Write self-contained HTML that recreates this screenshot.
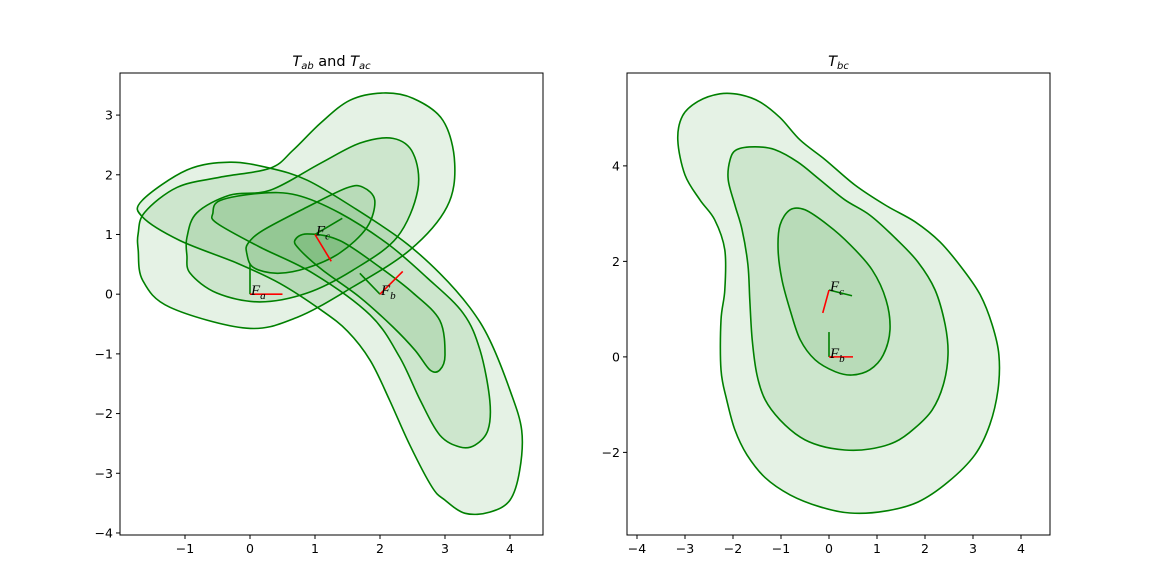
<!DOCTYPE html>
<html><head><meta charset="utf-8"><style>
body{margin:0;background:#fff;}
svg{display:block;font-family:"DejaVu Sans","Liberation Sans",sans-serif;}
</style></head><body>
<svg id="fig" width="1159" height="575"></svg>
<script>
// ---- data ----
const leftXTicks=[-1,0,1,2,3,4];
const leftYTicks=[-4,-3,-2,-1,0,1,2,3];
const rightXTicks=[-4,-3,-2,-1,0,1,2,3,4];
const rightYTicks=[-2,0,2,4];
const acOuterX=[-1.72,-1.65,-1.23,-0.05,0.72,1.58,2.46,3.03,3.15,2.97,2.51,2.05,1.54,1.08,0.66,0.31,-0.46,-1.12,-1.62,-1.72];
const acOuterY=[0.74,0.23,-0.22,-0.57,-0.39,0.12,0.74,1.46,2.19,2.91,3.28,3.37,3.25,2.86,2.41,2.11,1.96,1.79,1.37,1.02];
const acMidX=[-0.97,-0.92,-0.51,0.15,0.88,1.58,2.26,2.58,2.51,2.20,1.69,1.08,0.31,-0.31,-0.82,-0.97];
const acMidY=[0.65,0.35,0.02,-0.13,0.02,0.40,0.95,1.74,2.36,2.61,2.53,2.19,1.74,1.66,1.36,0.95];
const acInnerX=[-0.05,0.05,0.42,0.88,1.38,1.80,1.92,1.74,1.49,0.88,0.20,-0.03];
const acInnerY=[0.69,0.45,0.35,0.44,0.69,1.12,1.57,1.79,1.78,1.46,1.07,0.85];
const abOuterX=[-1.66,-0.97,-0.31,0.31,0.88,1.58,2.35,2.92,3.38,3.69,4.00,4.18,4.15,4.00,3.69,3.31,3.00,2.80,2.46,2.15,1.85,1.50,1.10,0.46,-0.20,-1.08,-1.65];
const abOuterY=[1.57,2.08,2.21,2.11,1.91,1.46,0.90,0.35,-0.22,-0.77,-1.61,-2.28,-2.95,-3.45,-3.65,-3.67,-3.45,-3.23,-2.53,-1.78,-1.11,-0.62,-0.27,0.18,0.52,0.90,1.29];
const abMidX=[-0.57,-0.46,0.15,0.72,1.38,2.11,2.72,3.28,3.54,3.69,3.66,3.46,3.23,2.92,2.62,2.30,1.85,0.97,0.15,-0.51];
const abMidY=[1.36,1.57,1.69,1.66,1.36,0.85,0.28,-0.32,-0.94,-1.78,-2.28,-2.53,-2.56,-2.36,-1.78,-1.05,-0.35,0.35,0.79,1.19];
const abInnerX=[0.69,0.88,1.38,2.00,2.51,2.92,3.00,2.92,2.77,2.54,2.20,1.69,1.12,0.77];
const abInnerY=[0.90,1.01,0.90,0.45,0.02,-0.44,-1.02,-1.27,-1.27,-0.94,-0.55,-0.05,0.40,0.74];
const bcOuterX=[-3.05,-3.15,-3.00,-2.69,-2.38,-2.17,-2.17,-2.25,-2.25,-2.13,-1.96,-1.71,-1.33,-0.81,-0.19,0.44,1.17,1.85,2.48,3.04,3.35,3.52,3.54,3.40,3.15,2.77,2.31,1.79,1.17,0.54,-0.08,-0.60,-1.02,-1.44,-1.85,-2.27,-2.73];
const bcOuterY=[5.05,4.54,3.81,3.29,2.87,2.24,1.40,0.77,-0.27,-0.90,-1.53,-2.05,-2.53,-2.89,-3.14,-3.27,-3.23,-3.04,-2.62,-2.05,-1.42,-0.69,0.04,0.67,1.30,1.86,2.41,2.83,3.18,3.60,4.13,4.54,5.01,5.34,5.49,5.51,5.35];
const bcMidX=[-2.06,-2.10,-1.96,-1.81,-1.69,-1.65,-1.60,-1.50,-1.33,-1.02,-0.60,-0.19,0.33,0.85,1.38,1.79,2.15,2.38,2.48,2.42,2.21,1.85,1.38,0.85,0.33,-0.19,-0.65,-1.13,-1.54,-1.92];
const bcMidY=[4.13,3.71,3.18,2.66,1.93,1.19,0.36,-0.38,-0.90,-1.32,-1.68,-1.86,-1.95,-1.93,-1.78,-1.49,-1.11,-0.59,0.04,0.67,1.40,1.99,2.49,2.97,3.29,3.71,4.08,4.34,4.40,4.34];
const bcInnerX=[-1.02,-1.06,-0.98,-0.81,-0.60,-0.29,0.13,0.48,0.85,1.13,1.27,1.19,0.90,0.44,-0.02,-0.50,-0.81];
const bcInnerY=[2.76,2.24,1.61,0.98,0.36,-0.06,-0.31,-0.38,-0.27,0.04,0.57,1.19,1.82,2.35,2.76,3.08,3.08];
// frames: origin ; red end ; green end
const leftFrames=[{n:"a",o:[0,0],r:[0.5,0],g:[0,0.5]},{n:"c",o:[1,1],r:[1.25,0.55],g:[1.42,1.27]},{n:"b",o:[2,0],r:[2.35,0.38],g:[1.69,0.35]}];
const rightFrames=[{n:"b",o:[0,0],r:[0.5,0],g:[0,0.52]},{n:"c",o:[0,1.4],r:[-0.13,0.92],g:[0.48,1.28]}];

const NS="http://www.w3.org/2000/svg";
const svg=document.getElementById('fig');
function mk(tag,attrs,parent){const e=document.createElementNS(NS,tag);for(const k in attrs)e.setAttribute(k,attrs[k]);(parent||svg).appendChild(e);return e;}
function smooth(pts){
  const n=pts.length;let d=`M${pts[0][0].toFixed(1)},${pts[0][1].toFixed(1)}`;
  for(let i=0;i<n;i++){const p0=pts[(i-1+n)%n],p1=pts[i],p2=pts[(i+1)%n],p3=pts[(i+2)%n];
    const c1=[p1[0]+(p2[0]-p0[0])/6,p1[1]+(p2[1]-p0[1])/6],c2=[p2[0]-(p3[0]-p1[0])/6,p2[1]-(p3[1]-p1[1])/6];
    d+=`C${c1[0].toFixed(1)},${c1[1].toFixed(1)} ${c2[0].toFixed(1)},${c2[1].toFixed(1)} ${p2[0].toFixed(1)},${p2[1].toFixed(1)}`;}
  return d+'Z';}
function panel(cfg){
  const {L,T,W,H,x0,x1,y0,y1}=cfg;
  const sx=v=>L+(v-x0)/(x1-x0)*W, sy=v=>T+(y1-v)/(y1-y0)*H;
  const g=mk('g',{});
  
  
  const clipId='clip'+cfg.name;
  const cp=mk('clipPath',{id:clipId},g);mk('rect',{x:L,y:T,width:W,height:H},cp);
  const cg=mk('g',{'clip-path':`url(#${clipId})`},g);
  cfg.contours.forEach(([xs,ys,nm])=>{
    const pts=xs.map((v,i)=>[sx(v),sy(ys[i])]);
    const p=mk('path',{d:smooth(pts),fill:'rgba(0,128,0,0.1)',stroke:'#008000','stroke-width':1.6},cg);
    
    
  });
  cfg.frames.forEach(f=>{
    const gl=mk('line',{x1:sx(f.o[0]),y1:sy(f.o[1]),x2:sx(f.g[0]),y2:sy(f.g[1]),stroke:'#008000','stroke-width':1.6},g);
    
    
    const rl=mk('line',{x1:sx(f.o[0]),y1:sy(f.o[1]),x2:sx(f.r[0]),y2:sy(f.r[1]),stroke:'#ff0000','stroke-width':1.6},g);
    
    
    const t=mk('text',{x:sx(f.o[0])+1,y:sy(f.o[1])+1,'font-size':15,'font-family':'"Liberation Serif",serif','font-style':'italic',fill:'#000'},g);
    t.innerHTML=`F<tspan font-size="11" dy="4">${f.n}</tspan>`;
    
    
  });
  const fr=mk('rect',{x:L,y:T,width:W,height:H,fill:'none',stroke:'#000','stroke-width':1},g);
  
  
  cfg.xt.forEach(v=>{
    const tk=mk('line',{x1:sx(v),x2:sx(v),y1:T+H,y2:T+H+4,stroke:'#000'},g);
    
    
    const t=mk('text',{x:sx(v),y:T+H+18,'text-anchor':'middle','font-size':12.5},g);
    t.textContent=(v<0?'\u2212'+(-v):v);
    
    
  });
  cfg.yt.forEach(v=>{
    const tk=mk('line',{x1:L-4,x2:L,y1:sy(v),y2:sy(v),stroke:'#000'},g);
    
    
    const t=mk('text',{x:L-7,y:sy(v)+4.5,'text-anchor':'end','font-size':12.5},g);
    t.textContent=(v<0?'\u2212'+(-v):v);
    
    
  });
  const tt=mk('text',{x:L+W/2,y:T-7,'text-anchor':'middle','font-size':14.5},g);
  tt.innerHTML=cfg.title;
  
  
}
panel({name:'panel-tab-tac',L:120,T:73,W:423,H:462,x0:-2.0,x1:4.508,y0:-4.034,y1:3.705,
  contours:[[acOuterX,acOuterY,'tac-contour-outer'],[acMidX,acMidY,'tac-contour-mid'],[acInnerX,acInnerY,'tac-contour-inner'],
            [abOuterX,abOuterY,'tab-contour-outer'],[abMidX,abMidY,'tab-contour-mid'],[abInnerX,abInnerY,'tab-contour-inner']],
  frames:leftFrames,xt:leftXTicks,yt:leftYTicks,
  title:'<tspan font-style="italic">T</tspan><tspan font-style="italic" font-size="10" dy="3">ab</tspan><tspan dy="-3"> and </tspan><tspan font-style="italic">T</tspan><tspan font-style="italic" font-size="10" dy="3">ac</tspan>'});
panel({name:'panel-tbc',L:627,T:73,W:423,H:462,x0:-4.208,x1:4.604,y0:-3.73,y1:5.945,
  contours:[[bcOuterX,bcOuterY,'tbc-contour-outer'],[bcMidX,bcMidY,'tbc-contour-mid'],[bcInnerX,bcInnerY,'tbc-contour-inner']],
  frames:rightFrames,xt:rightXTicks,yt:rightYTicks,
  title:'<tspan font-style="italic">T</tspan><tspan font-style="italic" font-size="10" dy="3">bc</tspan>'});
</script>
</body></html>
